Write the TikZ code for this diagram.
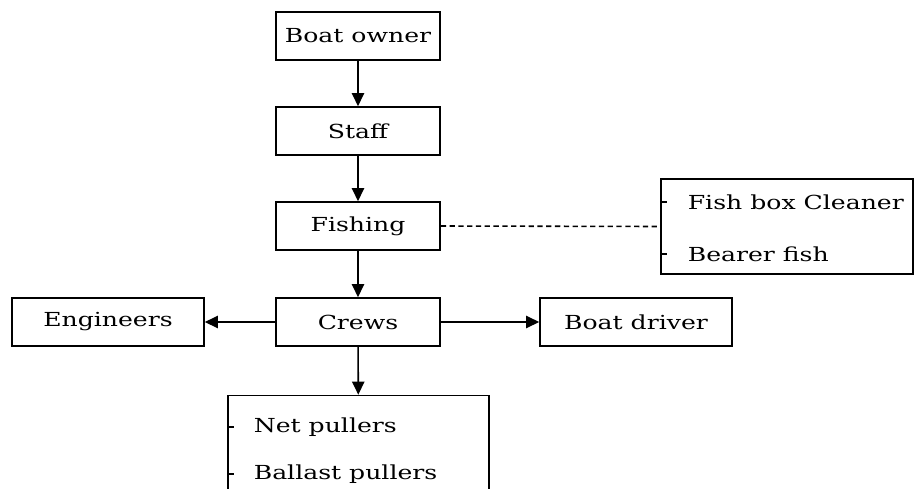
\documentclass[tikz,border=0pt]{standalone}
\usepackage{fontspec}
\setmainfont{DejaVu Serif}[FakeStretch=1.3]
\usetikzlibrary{arrows.meta, calc}

\begin{document}
\begin{tikzpicture}[x=0.02cm, y=-0.02cm, >={Triangle[length=7.5pt, width=7pt]}, line width=0.9pt,
    every node/.style={font=\fontsize{11}{13}\selectfont},
    unit/.style={draw, minimum width=3.28cm, minimum height=0.96cm, inner sep=0pt},
    side/.style={unit, minimum width=3.84cm},
    listbox/.style={draw, minimum height=1.9cm, inner sep=0pt},
    item/.style={anchor=west, inner sep=0pt}]
  \useasboundingbox (0,0) rectangle (917,488);
  \clip (0,0) rectangle (917,488);
  \node[unit] (owner) at (358,36) {Boat owner};
  \node[unit] (staff) at (358,131) {Staff};
  \node[unit] (fishing) at (358,226) {Fishing};
  \node[unit] (crews) at (358,322) {Crews};
  \node[side] (engineers) at (108,322) {Engineers};
  \node[side] (driver) at (636,322) {Boat driver};
  \node[listbox, minimum width=5.04cm] (helpers) at (787,226.5) {};
  \node[listbox, minimum width=5.22cm] (pullers) at (358.5,443) {};
  % list entries
  \node[item] (cleaner) at (687,202) {Fish box Cleaner};
  \node[item] (bearer) at (687,254) {Bearer fish};
  \node[item] (netp) at (253,427) {Net pullers};
  \node[item] (ballast) at (253,474) {Ballast pullers};
  \foreach \n in {cleaner, bearer}
    \draw (helpers.west |- \n.west) -- ++(7,0);
  \foreach \n in {netp, ballast}
    \draw (pullers.west |- \n.west) -- ++(7,0);
  \draw[->] (owner) -- (staff);
  \draw[->] (staff) -- (fishing);
  \draw[->] (fishing) -- (crews);
  \draw[dash pattern=on 3pt off 2pt] (fishing.east) -- (helpers.west);
  \draw[->] (crews) -- (engineers);
  \draw[->] (crews) -- (driver);
  \draw[->] (crews) -- (pullers);
\end{tikzpicture}
\end{document}
